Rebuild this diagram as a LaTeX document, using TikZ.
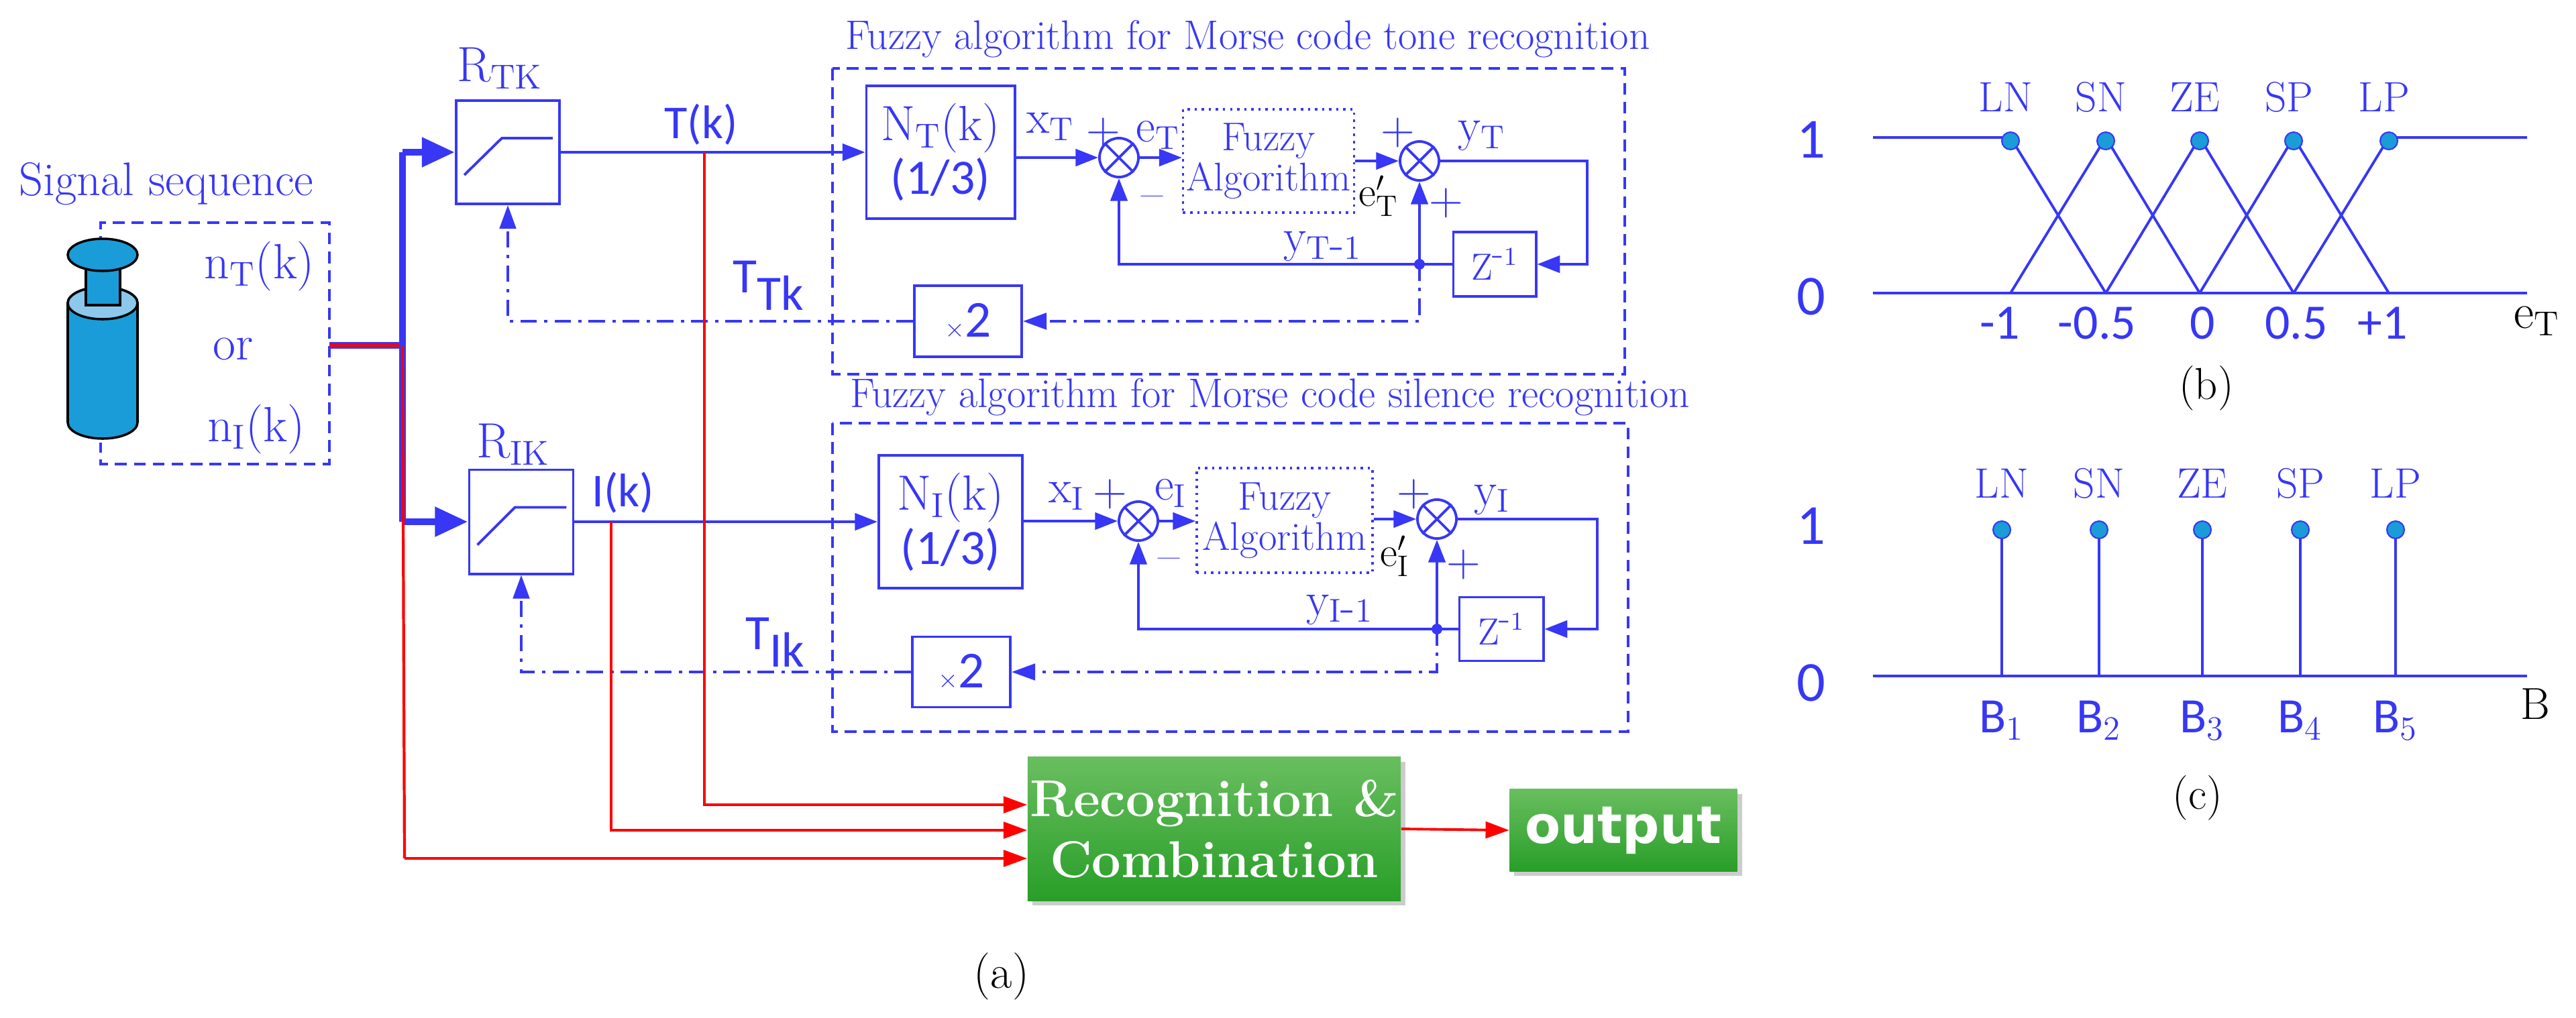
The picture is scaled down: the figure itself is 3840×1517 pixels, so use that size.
\documentclass[tikz,border=0pt]{standalone}
\usepackage{fontspec}
\newfontfamily\sansf{Carlito}
\newfontfamily\heavyf{DejaVu Sans}
\usetikzlibrary{arrows.meta,shadows,calc}
\definecolor{bl}{RGB}{55,55,245}
\definecolor{cyl}{RGB}{26,156,216}
\definecolor{cyll}{RGB}{140,200,235}
\definecolor{gtop}{RGB}{105,190,95}
\definecolor{gbot}{RGB}{40,158,40}
\newcommand{\fs}[1]{\fontsize{#1}{#1}\selectfont}
\begin{document}
\begin{tikzpicture}[x=0.01cm,y=-0.01cm,
  ln/.style={draw=bl,line width=1.1pt},
  arr/.style={ln,-{Triangle[length=16pt*0.6,width=12pt*0.6]}},
  dd/.style={draw=bl,line width=1pt,dash pattern=on 7pt off 3pt on 1.5pt off 3pt},
  dda/.style={dd,-{Triangle[length=10pt,width=7pt]}},
  redarr/.style={draw=red,line width=1.1pt,-{Triangle[length=10pt,width=7pt]}},
  box/.style={draw=bl,line width=1.1pt,inner sep=0pt},
  sumn/.style={draw=bl,line width=1.1pt,circle,minimum size=0.58cm,inner sep=0pt},
  lab/.style={text=bl,inner sep=1pt},
  grn/.style={inner sep=0pt,top color=gtop,bottom color=gbot,draw=none,drop shadow={opacity=0.4,shadow xshift=2pt,shadow yshift=-2pt},text=white},
  dot/.style={circle,fill=cyl,draw=bl,line width=0.6pt,inner sep=0pt,minimum size=0.26cm}
]
\useasboundingbox (0,0) rectangle (3840,1517);
% ---------- signal source
\node[lab,font=\fs{20}] (sig) at (248,274) {Signal sequence};
\draw[bl,line width=1pt,dash pattern=on 5pt off 3pt] (150,370) -- (150,332) -- (491,332) -- (491,692) -- (150,692) -- (150,660);
\fill[cyl,draw=black,line width=1pt] (101,452) -- (101,630) arc[start angle=180,end angle=360,x radius=52,y radius=-24] -- (205,452) arc[start angle=0,end angle=180,x radius=52,y radius=-24] -- cycle;
\fill[cyll,draw=black,line width=1pt] (153,452) ellipse[x radius=52,y radius=24];
\fill[cyl,draw=black,line width=1pt] (128,390) rectangle (179,455);
\fill[cyl,draw=black,line width=1pt] (153,380) ellipse[x radius=52,y radius=24];
\node[lab,font=\fs{21}] (nt) at (387,397) {n$_\mathrm{T}$(k)};
\node[lab,font=\fs{21}] (or) at (348,520) {or};
\node[lab,font=\fs{21}] (ni) at (382,640) {n$_\mathrm{I}$(k)};
\coordinate (so) at (491,515);
\coordinate (J) at (600,515);
\coordinate (JT) at (600,227);
\coordinate (JI) at (600,778);
% ---------- R blocks
\node[box,minimum width=1.54cm,minimum height=1.54cm] (RT) at (757,227) {};
\node[box,minimum width=1.55cm,minimum height=1.55cm] (RI) at (777,778) {};
\foreach \b in {RT,RI}{
  \draw[ln] ($(\b.south west)+(14,-45)$) -- ($(\b.north west)+(70,58)$) -- ($(\b.north east)+(-12,58)$);
}
\node[lab,font=\fs{21}] (rtl) at (745,102) {R$_\mathrm{TK}$};
\node[lab,font=\fs{21}] (ril) at (765,663) {R$_\mathrm{IK}$};
% ---------- upper fuzzy
\draw[bl,line width=1pt,dash pattern=on 5pt off 3pt] (1241,102) rectangle (2422,558);
\node[lab,font=\fs{17.5}] (tt) at (1860,58) {Fuzzy algorithm for Morse code tone recognition};
\node[box,minimum width=2.21cm,minimum height=1.98cm,text=bl,align=center,font=\fs{21}] (NT) at (1402,227) {N$_\mathrm{T}$(k)\\[2pt]{\sansf(1/3)}};
\node[sumn] (S1T) at (1668,235) {};
\draw[ln] (S1T.north west) -- (S1T.south east) (S1T.north east) -- (S1T.south west);
\node[draw=bl,line width=1pt,dotted,minimum width=2.55cm,minimum height=1.54cm,text=bl,align=center,font=\fs{17},inner sep=0pt] (FT) at (1891,240) {Fuzzy\\Algorithm};
\node[sumn] (S2T) at (2116,240) {};
\draw[ln] (S2T.north west) -- (S2T.south east) (S2T.north east) -- (S2T.south west);
\node[box,minimum width=1.23cm,minimum height=0.96cm,text=bl,font=\fs{16}] (ZT) at (2228,394) {Z$^{\mbox{-}1}$};
\node[box,minimum width=1.6cm,minimum height=1.06cm,text=bl,font=\sansf\fs{22}] (X2T) at (1443,479) {{\fs{11}$\times$}2};
\coordinate (jt) at (2116,394);
\coordinate (cT) at (2366,240);
\draw[arr] (RT.east) -- (NT.west);
\draw[arr] (NT.east|-S1T) -- (S1T.west);
\draw[arr] (S1T.east) -- (S1T.east-|FT.west);
\draw[arr] (FT.east|-S2T) -- (S2T.west);
\draw[arr] (S2T.east) -- (cT) |- (ZT.east);
\draw[arr] (ZT.west) -- (jt) -| (S1T.south);
\draw[arr] (jt) -- (S2T.south);
\fill[bl] (jt) circle (8);
\draw[dda] (jt) |- (X2T.east);
\draw[dda] (X2T.west) -| (RT.south);
\node[lab,font=\fs{20}] at (1566,189) {x$_\mathrm{T}$};
\node[lab,font=\fs{20}] at (1645,198) {+};
\node[lab,font=\fs{20}] at (1726,201) {e$_\mathrm{T}$};
\node[lab,font=\fs{20}] at (1718,302) {--};
\node[lab,font=\fs{20}] at (2084,198) {+};
\node[inner sep=1pt,font=\fs{18}] at (2055,292) {e$'_\mathrm{T}$};
\node[lab,font=\fs{20}] at (2156,303) {+};
\node[lab,font=\fs{20}] at (2209,203) {y$_\mathrm{T}$};
\node[lab,font=\fs{20}] at (1972,368) {y$_{\mathrm{T}\mbox{-}1}$};
\node[lab,font=\sansf\fs{21}] at (1146,426) {T$_{\mbox{Tk}}$};
\node[lab,font=\sansf\fs{20}] at (1045,186) {T(k)};
% ---------- lower fuzzy
\draw[bl,line width=1pt,dash pattern=on 5pt off 3pt] (1241,631) rectangle (2427,1091);
\node[lab,font=\fs{17.5}] (ti) at (1893,592) {Fuzzy algorithm for Morse code silence recognition};
\node[box,minimum width=2.14cm,minimum height=1.98cm,text=bl,align=center,font=\fs{21}] (NI) at (1417,778) {N$_\mathrm{I}$(k)\\[2pt]{\sansf(1/3)}};
\node[sumn] (S1I) at (1697,777) {};
\draw[ln] (S1I.north west) -- (S1I.south east) (S1I.north east) -- (S1I.south west);
\node[draw=bl,line width=1pt,dotted,minimum width=2.62cm,minimum height=1.56cm,text=bl,align=center,font=\fs{17},inner sep=0pt] (FI) at (1915,776) {Fuzzy\\Algorithm};
\node[sumn] (S2I) at (2142,774) {};
\draw[ln] (S2I.north west) -- (S2I.south east) (S2I.north east) -- (S2I.south west);
\node[box,minimum width=1.25cm,minimum height=0.95cm,text=bl,font=\fs{16}] (ZI) at (2238,938) {Z$^{\mbox{-}1}$};
\node[box,minimum width=1.46cm,minimum height=1.05cm,text=bl,font=\sansf\fs{22}] (X2I) at (1433,1002) {{\fs{11}$\times$}2};
\coordinate (ji) at (2142,938);
\coordinate (cI) at (2381,774);
\draw[arr] (RI.east) -- (NI.west);
\draw[arr] (NI.east|-S1I) -- (S1I.west);
\draw[arr] (S1I.east) -- (S1I.east-|FI.west);
\draw[arr] (FI.east|-S2I) -- (S2I.west);
\draw[arr] (S2I.east) -- (cI) |- (ZI.east);
\draw[arr] (ZI.west) -- (ji) -| (S1I.south);
\draw[arr] (ji) -- (S2I.south);
\fill[bl] (ji) circle (8);
\draw[dda] (ji) |- (X2I.east);
\draw[dda] (X2I.west) -| (RI.south);
\node[lab,font=\fs{20}] at (1590,740) {x$_\mathrm{I}$};
\node[lab,font=\fs{20}] at (1655,737) {+};
\node[lab,font=\fs{20}] at (1745,735) {e$_\mathrm{I}$};
\node[lab,font=\fs{20}] at (1743,842) {--};
\node[lab,font=\fs{20}] at (2108,737) {+};
\node[inner sep=1pt,font=\fs{18}] at (2079,829) {e$'_\mathrm{I}$};
\node[lab,font=\fs{20}] at (2182,842) {+};
\node[lab,font=\fs{20}] at (2224,745) {y$_\mathrm{I}$};
\node[lab,font=\fs{20}] at (1997,909) {y$_{\mathrm{I}\mbox{-}1}$};
\node[lab,font=\sansf\fs{21}] at (1156,958) {T$_{\mbox{Ik}}$};
\node[lab,font=\sansf\fs{20}] at (929,735) {I(k)};
% ---------- input wiring
\draw[bl,line width=3pt] (so) -- (J);
\draw[red,line width=1.2pt] (so) -- (J);
\draw[bl,line width=3pt] (JT) -- (JI);
\draw[bl,line width=3pt,-{Triangle[length=14pt,width=12pt]}] (JT) -- (RT.west);
\draw[bl,line width=3pt,-{Triangle[length=14pt,width=12pt]}] (JI) -- (RI.west);
% ---------- recognition
\node[grn,minimum width=5.56cm,minimum height=2.14cm,align=center,font=\bfseries\fs{22}] (Rec) at (1810,1236) {Recognition \&\\[4pt]Combination};
\node[grn,minimum width=3.39cm,minimum height=1.22cm,font=\heavyf\bfseries\fs{22}] (Out) at (2420,1238) {output};
\coordinate (tk) at (1050,227);
\coordinate (ik) at (911,778);
\draw[redarr] (tk) |- ($(Rec.west)+(0,-36)$);
\draw[redarr] (ik) |- ($(Rec.west)+(0,2)$);
\draw[red,line width=1.2pt] (J) -- (603,1280);
\draw[redarr] (603,1280) -- (603,1280-|Rec.west);
\draw[redarr] (Rec.east) -- (Out.west);
\node[font=\fs{20}] (la) at (1493,1456) {(a)};
% ---------- chart b
\foreach \y/\t in {208/1,442/0}{\node[lab,font=\sansf\fs{24}] at (2700,\y) {\t};}
\draw[ln] (2792,437) -- (3767,437);
\draw[ln] (2792,205) -- (2997,205) -- (3139,437);
\draw[ln] (2997,437) -- (3139,205) -- (3279,437);
\draw[ln] (3139,437) -- (3279,205) -- (3419,437);
\draw[ln] (3279,437) -- (3419,205) -- (3561,437);
\draw[ln] (3419,437) -- (3561,205) -- (3767,205);
\foreach \x/\t in {2997/LN,3139/SN,3279/ZE,3419/SP,3561/LP}{
  \node[dot] at (\x,210) {};
  \node[lab,font=\fs{18}] at (\x-7,145) {\t};}
\foreach \x/\t in {2981/-1,3126/-0.5,3283/0,3423/0.5,3552/+1}{
  \node[lab,font=\sansf\fs{21}] at (\x,482) {\t};}
\node[inner sep=1pt,font=\fs{21}] at (3782,479) {e$_\mathrm{T}$};
\node[font=\fs{19}] at (3289,579) {(b)};
% ---------- chart c
\foreach \y/\t in {784/1,1018/0}{\node[lab,font=\sansf\fs{24}] at (2700,\y) {\t};}
\draw[ln] (2792,1008) -- (3767,1008);
\foreach \x/\t/\n in {2984/LN/1,3129/SN/2,3283/ZE/3,3429/SP/4,3571/LP/5}{
  \draw[ln] (\x,790) -- (\x,1008);
  \node[dot] at (\x,790) {};
  \node[lab,font=\fs{18}] at (\x,721) {\t};
  \node[lab,font=\sansf\fs{21}] at (\x,1074) {B$_\n$};}
\node[inner sep=1pt,font=\fs{19}] at (3779,1050) {B};
\node[font=\fs{19}] at (3276,1190) {(c)};
\end{tikzpicture}
\end{document}
